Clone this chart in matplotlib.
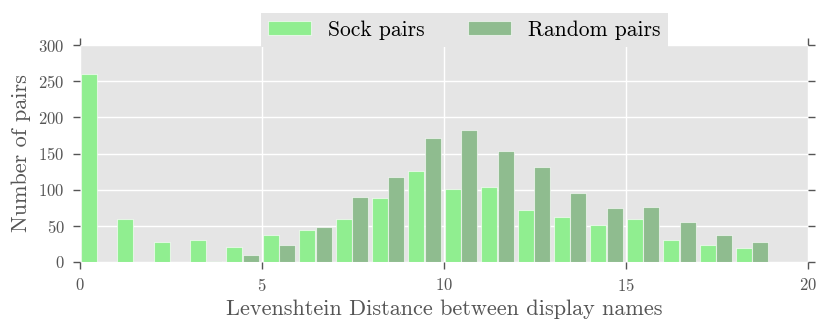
import numpy as np
import matplotlib
matplotlib.use("Agg")
import matplotlib.pyplot as plt

# Levenshtein distance bins (0..18) and pair counts per bin
distance = np.arange(19)
sock_pairs = [260, 60, 27, 30, 21, 38, 44, 60, 88, 126, 101, 104, 72, 62, 51, 59, 30, 24, 19]
random_pairs = [0, 0, 0, 2, 10, 24, 49, 90, 117, 171, 183, 154, 132, 96, 74, 76, 55, 37, 28]

x_ticks = [0, 5, 10, 15, 20]
y_ticks = [0, 50, 100, 150, 200, 250, 300]

plt.rcParams['font.family'] = ['cmr10', 'DejaVu Serif']
plt.rcParams['axes.formatter.use_mathtext'] = True
plt.rcParams['mathtext.fontset'] = 'cm'

fig = plt.figure(figsize=(8.31, 3.33), dpi=100)
ax = fig.add_axes([80 / 831, 1 - 262 / 333, 728 / 831, 217 / 333])
ax.set_facecolor('#E5E5E5')
ax.set_axisbelow(True)
ax.grid(True, color='white', linewidth=1.0)

width = 0.44
ax.bar(distance + 0.02, sock_pairs, width=width, align='edge',
       color='#90EE90', edgecolor=(1, 1, 1, 0.6), linewidth=0.8, label='Sock pairs')
ax.bar(distance + 0.02 + width + 0.01, random_pairs, width=width, align='edge',
       color='#8FBC8F', edgecolor=(1, 1, 1, 0.6), linewidth=0.8, label='Random pairs')

ax.set_xlim(0, 20)
ax.set_ylim(0, 300)
ax.set_xticks(x_ticks)
ax.set_yticks(y_ticks)
for s in ax.spines.values():
    s.set_visible(False)
ax.tick_params(direction='out', length=5, width=1, color='#555555',
               labelcolor='#555555', labelsize=12, top=True, right=True,
               labeltop=False, labelright=False, pad=6)

ax.set_xlabel('Levenshtein Distance between display names', fontsize=16, color='#555555', labelpad=4)
ax.set_ylabel('Number of pairs', fontsize=16, color='#555555', labelpad=5)

leg = ax.legend(loc='center', bbox_to_anchor=(464.5 / 831, 1 - 30 / 333),
                bbox_transform=fig.transFigure, ncol=2, fontsize=15.5,
                frameon=True, fancybox=False, framealpha=1,
                borderpad=0.35, handleheight=0.6)
leg.get_frame().set_facecolor('#E5E5E5')
leg.get_frame().set_edgecolor('none')

fig.savefig('out.png', dpi=100)
